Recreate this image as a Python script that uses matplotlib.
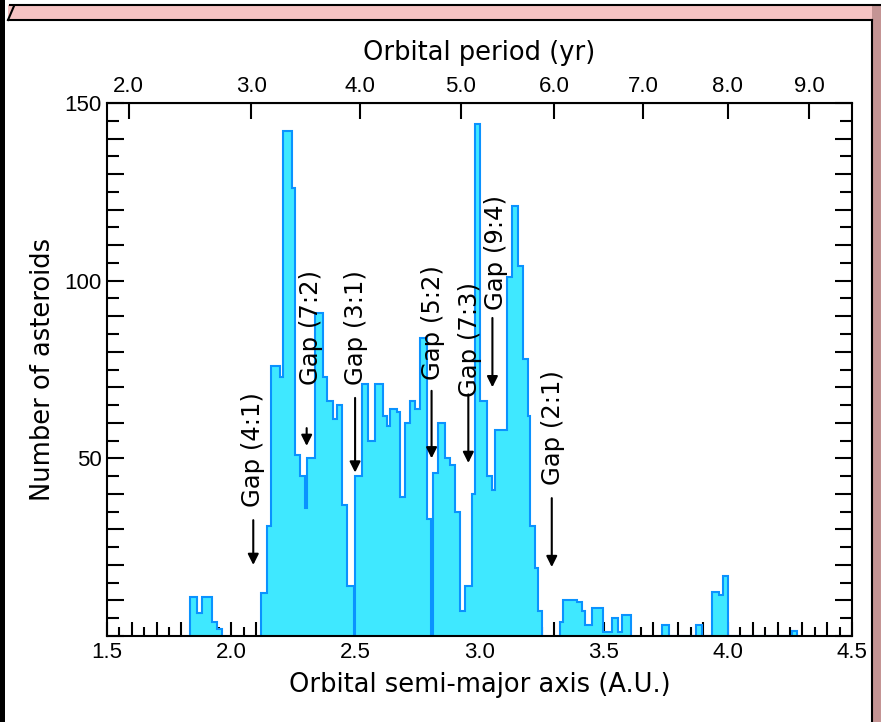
import numpy as np
import matplotlib
matplotlib.use('Agg')
import matplotlib.pyplot as plt
from matplotlib.patches import Rectangle
from matplotlib.lines import Line2D
from matplotlib.ticker import MultipleLocator, FuncFormatter

plt.rcParams['font.family'] = ['Liberation Sans', 'DejaVu Sans']
label_font = ['DejaVu Sans']

# histogram outline (semi-major axis in AU, counts per bin)
inner_edges = [1.834, 1.862, 1.883, 1.923, 1.943, 1.963]
inner_counts = [11, 6.5, 11, 4, 2]

main_edges = [2.120, 2.145, 2.160, 2.197, 2.210, 2.244, 2.257, 2.277, 2.297, 2.304,
              2.338, 2.368, 2.385, 2.411, 2.425, 2.445, 2.465, 2.493, 2.500, 2.526,
              2.553, 2.579, 2.613, 2.626, 2.640, 2.667, 2.680, 2.700, 2.720, 2.740,
              2.760, 2.787, 2.805, 2.812, 2.834, 2.861, 2.881, 2.901, 2.922, 2.942,
              2.969, 2.982, 3.002, 3.029, 3.049, 3.063, 3.110, 3.130, 3.157, 3.177,
              3.197, 3.203, 3.224, 3.237, 3.250]
main_counts = [12, 31, 76, 73, 142, 126, 51, 45, 36, 50,
               91, 73, 66, 61, 65, 37, 14, 0, 45, 71,
               55, 71, 62, 59, 64, 63, 39, 60, 66, 64,
               84, 33, 0, 46, 60, 50, 48, 35, 7, 14,
               40, 144, 66, 45, 41, 58, 101, 121, 104, 78,
               62, 31, 19, 7]

outer_edges = [3.325, 3.338, 3.391, 3.411, 3.425, 3.452, 3.496, 3.532, 3.559, 3.573, 3.609]
outer_counts = [4, 10, 9.5, 7, 3, 8, 1, 5, 1, 6]

far_edges = [3.734, 3.765, 3.872, 3.895, 3.935, 3.966, 3.982, 4.002, 4.257, 4.280]
far_counts = [3, 0, 3, 0, 12.5, 11.5, 17, 0, 1.5]

# resonance gaps
gap_labels = ['Gap (4:1)', 'Gap (7:2)', 'Gap (3:1)', 'Gap (5:2)', 'Gap (7:3)', 'Gap (9:4)', 'Gap (2:1)']
gap_a = [2.089, 2.304, 2.499, 2.807, 2.955, 3.052, 3.291]
arrow_tail = [32.6, 58.5, 67, 69, 68, 89.5, 38.8]
arrow_tip = [20, 53.5, 46, 50, 48.7, 70, 19.4]
label_a = [2.089, 2.322, 2.502, 2.813, 2.962, 3.067, 3.294]
label_base = [36.3, 70.6, 70.6, 72, 67.3, 91.7, 42.5]

x_labelled = [1.5, 2.0, 2.5, 3.0, 3.5, 4.0, 4.5]
y_labelled = [50, 100, 150]
period_ticks = [2, 3, 4, 5, 6, 7, 8, 9]
period_labels = ['2.0', '3.0', '4.0', '5.0', '6.0', '7.0', '8.0', '9.0']

W, H = 881, 722
fig = plt.figure(figsize=(W / 100, H / 100), dpi=100)
fig.patch.set_facecolor('white')


def px_rect(x0, y0, x1, y1, color):
    fig.add_artist(Rectangle((x0 / W, 1 - y1 / H), (x1 - x0) / W, (y1 - y0) / H,
                             transform=fig.transFigure, facecolor=color,
                             edgecolor='none', zorder=0))


def px_line(xs, ys, lw=1.5, color='black'):
    fig.add_artist(Line2D([x / W for x in xs], [1 - y / H for y in ys],
                          transform=fig.transFigure, color=color, lw=lw, zorder=1))


# picture frame
px_rect(8, 5, 881, 19, '#f6c3c3')
px_rect(872, 5, 881, 722, '#c49494')
px_rect(0, 0, 5, 722, 'black')
px_line([10, 881], [5, 5])
px_line([8, 872], [20, 20])
px_line([872, 872], [20, 722])
px_line([8, 14], [20, 6])

ax = fig.add_axes([107 / W, 1 - 636 / H, (852 - 107) / W, (636 - 103) / H])

fill = '#3fe8ff'
edge = '#0a92ff'
for e, c in [(inner_edges, inner_counts), (main_edges, main_counts),
             (outer_edges, outer_counts), (far_edges, far_counts)]:
    ax.stairs(c, e, fill=True, facecolor=fill, edgecolor=edge, linewidth=1.5,
              baseline=0, zorder=2)

for lab, xa, t0, t1, la, lb in zip(gap_labels, gap_a, arrow_tail, arrow_tip, label_a, label_base):
    ax.annotate('', xy=(xa, t1), xytext=(xa, t0),
                arrowprops=dict(arrowstyle='-|>', color='black', lw=1.5,
                                mutation_scale=16, shrinkA=0, shrinkB=0), zorder=4)
    ax.text(la, lb, lab, rotation=90, ha='center', va='bottom', fontsize=17.5,
            family=label_font, zorder=4)

ax.set_xlim(1.5, 4.5)
ax.set_ylim(0, 150)

ax.xaxis.set_major_locator(MultipleLocator(0.1))
ax.xaxis.set_minor_locator(MultipleLocator(0.05))
ax.xaxis.set_major_formatter(FuncFormatter(
    lambda v, p: '%.1f' % v if any(abs(v - t) < 1e-6 for t in x_labelled) else ''))
ax.yaxis.set_major_locator(MultipleLocator(10))
ax.yaxis.set_minor_locator(MultipleLocator(5))
ax.yaxis.set_major_formatter(FuncFormatter(
    lambda v, p: '%d' % v if any(abs(v - t) < 1e-6 for t in y_labelled) else ''))

ax.tick_params(axis='x', which='major', direction='in', length=10, width=1.5,
               labelsize=16, pad=4, top=False, bottom=True)
ax.tick_params(axis='x', which='minor', direction='in', length=6.5, width=1.5,
               top=False, bottom=True)
ax.tick_params(axis='y', which='major', direction='in', length=12, width=1.5,
               labelsize=16, pad=4, left=True, right=True)
ax.tick_params(axis='y', which='minor', direction='in', length=8.5, width=1.5,
               left=True, right=True)
for s in ax.spines.values():
    s.set_linewidth(1.5)

ax.set_xlabel('Orbital semi-major axis (A.U.)', fontsize=18.5, family=label_font, labelpad=7)
ax.set_ylabel('Number of asteroids', fontsize=18.5, family=label_font, labelpad=6)

sec = ax.secondary_xaxis('top', functions=(lambda a: np.power(np.clip(a, 0, None), 1.5),
                                            lambda p: np.power(np.clip(p, 0, None), 2.0 / 3.0)))
sec.set_xticks(period_ticks)
sec.set_xticklabels(period_labels)
sec.tick_params(axis='x', direction='in', length=11.5, width=1.5, labelsize=16, pad=4)
sec.set_xlabel('Orbital period (yr)', fontsize=18.5, family=label_font, labelpad=12)

fig.savefig('out.png', dpi=100)
